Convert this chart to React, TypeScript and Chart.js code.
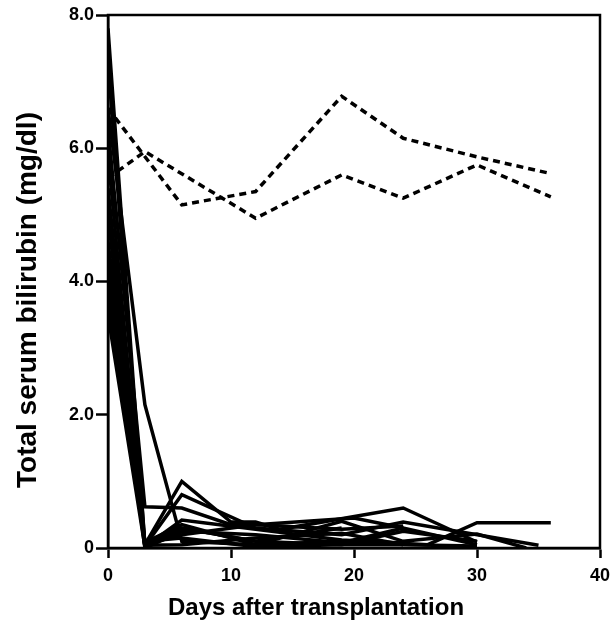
import { useEffect, useRef } from "react";
import { Chart, registerables } from "chart.js";

Chart.register(...registerables);

// Axis ticks
const xTicks = [0, 10, 20, 30, 40];
const yTicks = [0, 2, 4, 6, 8];

// Dashed (non-responders)
const dashA_days = [0, 6, 12, 19, 24, 30, 36];
const dashA_vals = [6.6, 5.15, 5.35, 6.78, 6.15, 5.87, 5.62];
const dashB_days = [0, 3, 12, 19, 24, 30, 36];
const dashB_vals = [5.55, 5.95, 4.95, 5.6, 5.25, 5.75, 5.27];

// Solid (responders)
const s1_days = [0, 3, 6, 12, 19, 24, 30];
const s1_vals = [7.8, 0.05, 0.3, 0.1, 0.05, 0.05, 0.03];
const s2_days = [0, 3, 6, 12, 19, 24];
const s2_vals = [6.6, 2.15, 0.1, 0.05, 0.1, 0.08];
const s3_days = [0, 3, 6, 10, 12, 19, 24];
const s3_vals = [6.3, 0.62, 0.6, 0.35, 0.35, 0.28, 0.33];
const s4_days = [0, 3, 6, 10, 12, 14, 24, 30];
const s4_vals = [5.9, 0.05, 1.0, 0.39, 0.39, 0.28, 0.6, 0.09];
const s5_days = [0, 3, 6, 12, 19, 24, 35];
const s5_vals = [5.4, 0.03, 0.8, 0.3, 0.2, 0.39, 0.04];
const s6_days = [0, 3, 6, 12, 19, 26, 30, 36];
const s6_vals = [5.0, 0.02, 0.42, 0.28, 0.12, 0.05, 0.38, 0.38];
const s7_days = [0, 3, 6, 12, 19, 24, 30, 34];
const s7_vals = [4.6, 0.08, 0.35, 0.05, 0.4, 0.1, 0.21, 0.0];
const s8_days = [0, 3, 6, 12, 19, 24, 30];
const s8_vals = [4.3, 0.0, 0.25, 0.2, 0.08, 0.3, 0.05];
const s9_days = [0, 3, 6, 12, 19, 24];
const s9_vals = [4.0, 0.04, 0.05, 0.15, 0.22, 0.05];
const s10_days = [0, 3, 6, 12, 19, 24, 30];
const s10_vals = [3.7, 0.1, 0.15, 0.02, 0.05, 0.25, 0.1];
const s11_days = [0, 3, 6, 12, 19];
const s11_vals = [3.5, 0.02, 0.3, 0.1, 0.3];
const s12_days = [0, 3, 6, 12, 20, 24];
const s12_vals = [7.3, 0.05, 0.2, 0.35, 0.45, 0.3];

const xTitle = "Days after transplantation";
const yTitle = "Total serum bilirubin (mg/dl)";

const toPts = (d: number[], v: number[]) => d.map((x, i) => ({ x, y: v[i] }));

const solidSeries: [number[], number[]][] = [
  [s1_days, s1_vals],
  [s2_days, s2_vals],
  [s3_days, s3_vals],
  [s4_days, s4_vals],
  [s5_days, s5_vals],
  [s6_days, s6_vals],
  [s7_days, s7_vals],
  [s8_days, s8_vals],
  [s9_days, s9_vals],
  [s10_days, s10_vals],
  [s11_days, s11_vals],
  [s12_days, s12_vals],
];
const dashedSeries: [number[], number[]][] = [
  [dashA_days, dashA_vals],
  [dashB_days, dashB_vals],
];

const FONT = '"Liberation Sans", Arial, Helvetica, sans-serif';

export default function App() {
  const ref = useRef<HTMLCanvasElement | null>(null);
  useEffect(() => {
    document.body.style.margin = "0";
    const canvas = ref.current;
    if (!canvas) return;

    const frameAndTitles = {
      id: "frameAndTitles",
      afterDraw(chart: any) {
        const { ctx, chartArea } = chart;
        ctx.save();
        ctx.strokeStyle = "#000";
        ctx.lineWidth = 2.5;
        ctx.strokeRect(chartArea.left, chartArea.top, chartArea.right - chartArea.left, chartArea.bottom - chartArea.top);
        ctx.fillStyle = "#000";
        ctx.textAlign = "center";
        ctx.textBaseline = "middle";
        ctx.font = `bold 24px ${FONT}`;
        ctx.fillText(xTitle, 316, 608);
        ctx.translate(28, 300);
        ctx.rotate(-Math.PI / 2);
        ctx.font = `bold 28px ${FONT}`;
        ctx.fillText(yTitle, 0, 0);
        ctx.restore();
      },
    };

    const datasets: any[] = [
      ...solidSeries.map(([d, v]) => ({
        data: toPts(d, v),
        borderColor: "#000",
        borderWidth: 3.5,
        pointRadius: 0,
        fill: false,
        tension: 0,
      })),
      ...dashedSeries.map(([d, v]) => ({
        data: toPts(d, v),
        borderColor: "#000",
        borderWidth: 3.5,
        borderDash: [7, 5],
        pointRadius: 0,
        fill: false,
        tension: 0,
      })),
    ];

    const chart = new Chart(canvas, {
      type: "line",
      data: { datasets },
      options: {
        animation: false,
        responsive: false,
        maintainAspectRatio: false,
        layout: { padding: { left: 0, top: 15, right: 13, bottom: 0 } },
        plugins: { legend: { display: false }, tooltip: { enabled: false } },
        scales: {
          x: {
            type: "linear",
            min: 0,
            max: 40,
            afterFit(scale: any) {
              scale.height = 83;
              scale.paddingLeft = 0;
              scale.paddingRight = 0;
            },
            afterBuildTicks(scale: any) {
              scale.ticks = xTicks.map((v) => ({ value: v }));
            },
            border: { display: true, color: "#000", width: 2.5 },
            grid: { drawOnChartArea: false, drawTicks: true, tickLength: 10, tickColor: "#000", tickWidth: 2.5 },
            ticks: {
              color: "#000",
              font: { family: FONT, size: 18, weight: "bold" },
              padding: 7,
              maxRotation: 0,
              callback: (v: any) => String(v),
            },
          },
          y: {
            type: "linear",
            min: 0,
            max: 8,
            afterFit(scale: any) {
              scale.width = 108;
              scale.paddingTop = 0;
              scale.paddingBottom = 0;
            },
            afterBuildTicks(scale: any) {
              scale.ticks = yTicks.map((v) => ({ value: v }));
            },
            border: { display: true, color: "#000", width: 2.5 },
            grid: { drawOnChartArea: false, drawTicks: true, tickLength: 12, tickColor: "#000", tickWidth: 2.5 },
            ticks: {
              color: "#000",
              font: { family: FONT, size: 18, weight: "bold" },
              padding: 2,
              callback: (v: any) => (v === 0 ? "0" : Number(v).toFixed(1)),
            },
          },
        },
      },
      plugins: [frameAndTitles],
    });
    return () => chart.destroy();
  }, []);

  return (
    <div style={{ width: 613, height: 631, position: "relative" }}>
      <canvas ref={ref} width={613} height={631} style={{ width: 613, height: 631, display: "block" }} />
    </div>
  );
}
